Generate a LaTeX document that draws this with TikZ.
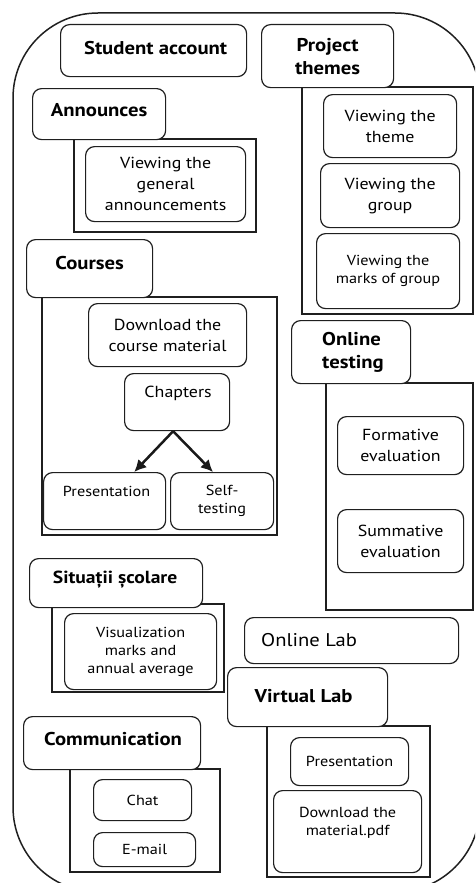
\documentclass[tikz,border=0pt]{standalone}
\usepackage{fontspec}
\setmainfont{PT Sans}[FakeStretch=1.12]
\usetikzlibrary{arrows.meta,calc}
\tikzset{
  edge/.style={line width=1.2pt, draw=black!88},
  rbox/.style={edge, fill=white, rounded corners=9pt, inner sep=0pt, align=center,
    anchor=north west, font=\fontsize{16}{21}\selectfont},
  hbox/.style={rbox, font=\fontsize{18.5}{23}\selectfont\bfseries},
  sbox/.style={rbox, font=\fontsize{14.5}{18}\selectfont},
  frame/.style={edge},
  txt/.style={inner sep=0pt, align=center},
  flow/.style={line width=2.5pt, draw=black!90, -{Latex[length=12pt,width=12pt]}},
  wh/.style 2 args={minimum width=#1pt, minimum height=#2pt}
}
\begin{document}
\begin{tikzpicture}[x=1pt,y=-1pt]
\useasboundingbox (0,0) rectangle (475,883);
\clip (0,0) rectangle (475,883);
% outer container
\draw[line width=1.5pt, draw=black!88, rounded corners=85pt] (13,13) rectangle (480,892);

% group frames
\draw[frame] (302,87) rectangle (473,314);
\draw[frame] (74,139) rectangle (256,232);
\draw[frame] (42,297) rectangle (277,535);
\draw[frame] (326,383) rectangle (473,610);
\draw[frame] (52,604) rectangle (224,692);
\draw[frame] (70,769) rectangle (220,872);
\draw[frame] (267,726) rectangle (430,877);

% header boxes
\node[hbox, wh={186}{52}] (student) at (60,24) {};
\node[txt, font=\fontsize{18.5}{23}\selectfont\bfseries] (studentt) at ($(student.center)+(2,-3)$) {Student account};
\node[hbox, wh={132}{63}] (proj) at (261,24) {Project\\themes};
\node[hbox, wh={133}{51}] (ann) at (32,88) {};
\node[txt, font=\fontsize{18.5}{23}\selectfont\bfseries] (annt) at ($(ann.center)+(0,-4)$) {Announces};
\node[hbox, wh={126}{58}] (courses) at (26,239) {};
\node[txt, font=\fontsize{18.5}{23}\selectfont\bfseries] (courset) at ($(courses.center)+(0,-6)$) {Courses};
\node[hbox, wh={119}{63}] (ot) at (291,320) {};
\node[txt, align=left, anchor=west, font=\fontsize{18.5}{23}\selectfont\bfseries] (ott) at ($(ot.west)+(31,0)$) {Online\\testing};
\node[hbox, wh={173}{49}] (sit) at (29,558) {};
\node[txt, font=\fontsize{17.5}{22}\selectfont\bfseries] (sitt) at ($(sit.center)+(-1,-3)$) {Situații școlare};
\node[rbox, wh={214}{46}] (olab) at (244,617) {};
\node[txt, anchor=west, font=\fontsize{18.4}{22}\selectfont] (olabt) at ($(olab.west)+(17,-1)$) {Online Lab};
\node[hbox, wh={160}{59}] (vlab) at (227,667) {};
\node[txt, font=\fontsize{18.5}{23}\selectfont\bfseries] (vlabt) at ($(vlab.center)+(-4,-1)$) {Virtual Lab};
\node[hbox, wh={177}{53}] (comm) at (23,716) {};
\node[txt, font=\fontsize{18.5}{23}\selectfont\bfseries] (commt) at ($(comm.center)+(1,-4)$) {Communication};

% announces
\node[rbox, wh={160}{75}] (vgen) at (85,146) {Viewing the\\general\\announcements};

% project themes
\node[rbox, wh={133}{63}] (vtheme) at (323,94) {Viewing the\\theme};
\node[rbox, wh={139}{64}] (vgroup) at (320,163) {Viewing the\\group};
\node[sbox, wh={143}{75}] (vmarks) at (316,233) {Viewing the\\marks of group};

% courses
\node[rbox, wh={158}{63}] (dl) at (88,303) {Download the\\course material};
\node[rbox, wh={105}{57}] (chap) at (124,373) {};
\node[txt, font=\fontsize{16}{21}\selectfont] (chapt) at ($(chap.north)+(1,20)$) {Chapters};
\node[sbox, wh={122}{57}] (pres) at (43,472) {};
\node[txt, font=\fontsize{14.5}{18}\selectfont] (prest) at ($(pres.north)+(2,19)$) {Presentation};
\node[sbox, wh={103}{57}] (self) at (170,472) {Self-\\testing};
\draw[flow] ([xshift=-4pt]chap.south) -- ([xshift=-32pt]pres.north east);
\draw[flow] ([xshift=-4pt]chap.south) -- ([xshift=43pt]self.north west);

% online testing
\node[rbox, wh={126}{58}] (form) at (337,416) {Formative\\evaluation};
\node[rbox, wh={126}{63}] (summ) at (337,509) {Summative\\evaluation};

% school situation
\node[sbox, wh={152}{76}] (vis) at (64,613) {Visualization\\marks and\\annual average};

% communication
\node[sbox, wh={98}{41}] (chat) at (93,779) {Chat};
\node[sbox, wh={102}{34}] (email) at (93,832) {E-mail};

% virtual lab
\node[sbox, wh={118}{48}] (vpres) at (290,737) {Presentation};
\node[sbox, wh={148}{82}] (vdl) at (273,790) {};
\node[txt, font=\fontsize{14.5}{18}\selectfont] (vdlt) at ($(vdl.center)+(0,-9)$) {Download the\\material.pdf};
\end{tikzpicture}
\end{document}
